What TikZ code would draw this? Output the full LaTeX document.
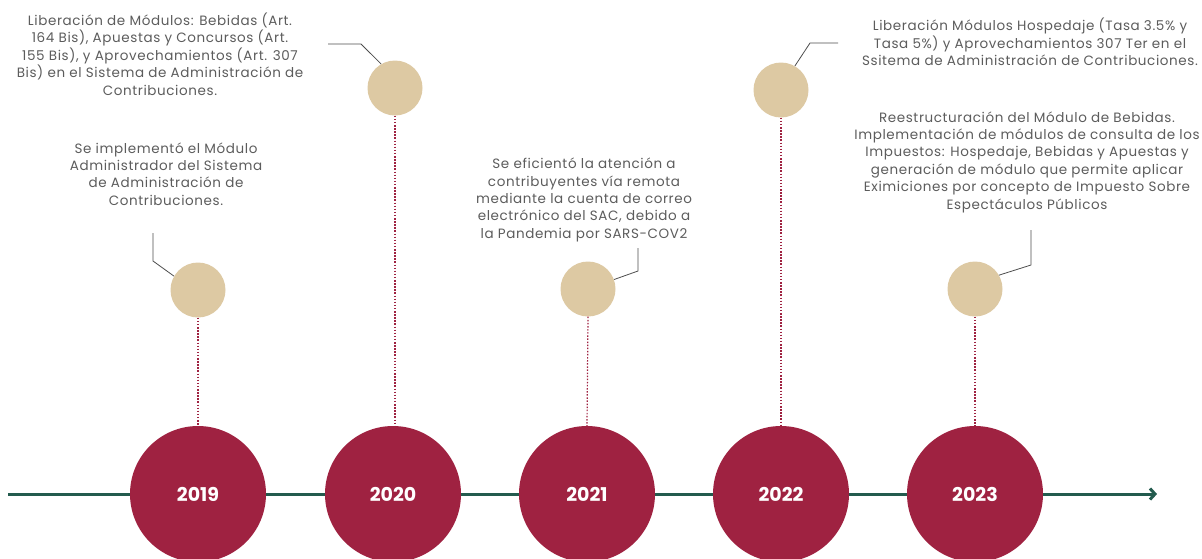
\documentclass[tikz,border=0pt]{standalone}
\usepackage{fontspec}
\setmainfont{Poppins}
\usetikzlibrary{arrows.meta}
\definecolor{guinda}{HTML}{9F2241}
\definecolor{dorado}{HTML}{DDC9A3}
\definecolor{verde}{HTML}{235B4E}
\definecolor{texto}{HTML}{5C5C5C}
\definecolor{linea}{HTML}{4D4D4D}
\begin{document}
\begin{tikzpicture}[x=1pt,y=-1pt,
  year/.style={circle, fill=guinda, minimum size=136pt, inner sep=0pt, text=white,
    font=\fontsize{19}{22}\selectfont\bfseries},
  dot/.style={circle, fill=dorado, minimum size=55pt, inner sep=0pt},
  note/.style={align=center, text=texto, inner sep=0pt,
    font=\fontsize{13.5}{17.4}\selectfont\addfontfeatures{LetterSpace=4.5}},
  leader/.style={draw=linea, line width=0.8pt},
  drop/.style={draw=guinda, line width=1.2pt, dash pattern=on 1.5pt off 1.6pt},
  axis/.style={draw=verde, line width=3pt, -{Straight Barb[length=5pt,width=11pt]}}]
\useasboundingbox (0,0) rectangle (1202,558);

% timeline axis
\coordinate (start) at (8,494);
\coordinate (end) at (1157,494);
\draw[axis] (start) -- (end);

% year circles
\node[year] (b19) at (198,494) {2019};
\node[year] (b20) at (393,494) {2020};
\node[year] (b21) at (587,494) {2021};
\node[year] (b22) at (781,494) {2022};
\node[year] (b23) at (975,494) {2023};

% small circles
\node[dot] (s19) at (198,290) {};
\node[dot] (s20) at (395,88) {};
\node[dot] (s21) at (588,289) {};
\node[dot] (s22) at (781,90) {};
\node[dot] (s23) at (975,289) {};

% dotted drops
\draw[drop] (s19.south) -- (b19.north);
\draw[drop] (s20.south) -- (s20.south |- b20.north);
\draw[drop] (s21.south) -- (b21.north);
\draw[drop] (s22.south) -- (b22.north);
\draw[drop] (s23.south) -- (b23.north);

% notes
\node[note] (t19) at (166,174) {Se implementó el Módulo\\Administrador del Sistema\\de Administración de\\Contribuciones.};
\node[note] (t20) at (160,54) {Liberación de Módulos: Bebidas (Art.\\164 Bis), Apuestas y Concursos (Art.\\155 Bis), y Aprovechamientos (Art. 307\\Bis) en el Sistema de Administración de\\Contribuciones.};
\node[note] (t21) at (584,200) {Se eficientó la atención a\\contribuyentes vía remota\\mediante la cuenta de correo\\electrónico del SAC, debido a\\la Pandemia por SARS-COV2};
\node[note] (t22) at (1030,42) {Liberación Módulos Hospedaje (Tasa 3.5\% y\\Tasa 5\%) y Aprovechamientos 307 Ter en el\\Ssitema de Administración de Contribuciones.};
\node[note] (t23) at (1027,162) {Reestructuración del Módulo de Bebidas.\\Implementación de módulos de consulta de los\\Impuestos: Hospedaje, Bebidas y Apuestas y\\generación de módulo que permite aplicar\\Eximiciones por concepto de Impuesto Sobre\\Espectáculos Públicos};

% leader lines
\coordinate (l19a) at (153,233);
\coordinate (l19b) at (153,261);
\draw[leader] (l19a) -- (l19b) -- (s19.150);

\coordinate (l20a) at (328,44);
\coordinate (l20b) at (361,44);
\draw[leader] (l20a) -- (l20b) -- (s20.120);

\coordinate (l21a) at (638,248);
\coordinate (l21b) at (638,271);
\draw[leader] (l21a) -- (l21b) -- (s21.20);

\coordinate (l22a) at (838,43);
\coordinate (l22b) at (810,43);
\draw[leader] (l22a) -- (l22b) -- (s22.60);

\coordinate (l23a) at (1031,230);
\coordinate (l23b) at (1031,265);
\draw[leader] (l23a) -- (l23b) -- (s23.30);
\end{tikzpicture}
\end{document}
